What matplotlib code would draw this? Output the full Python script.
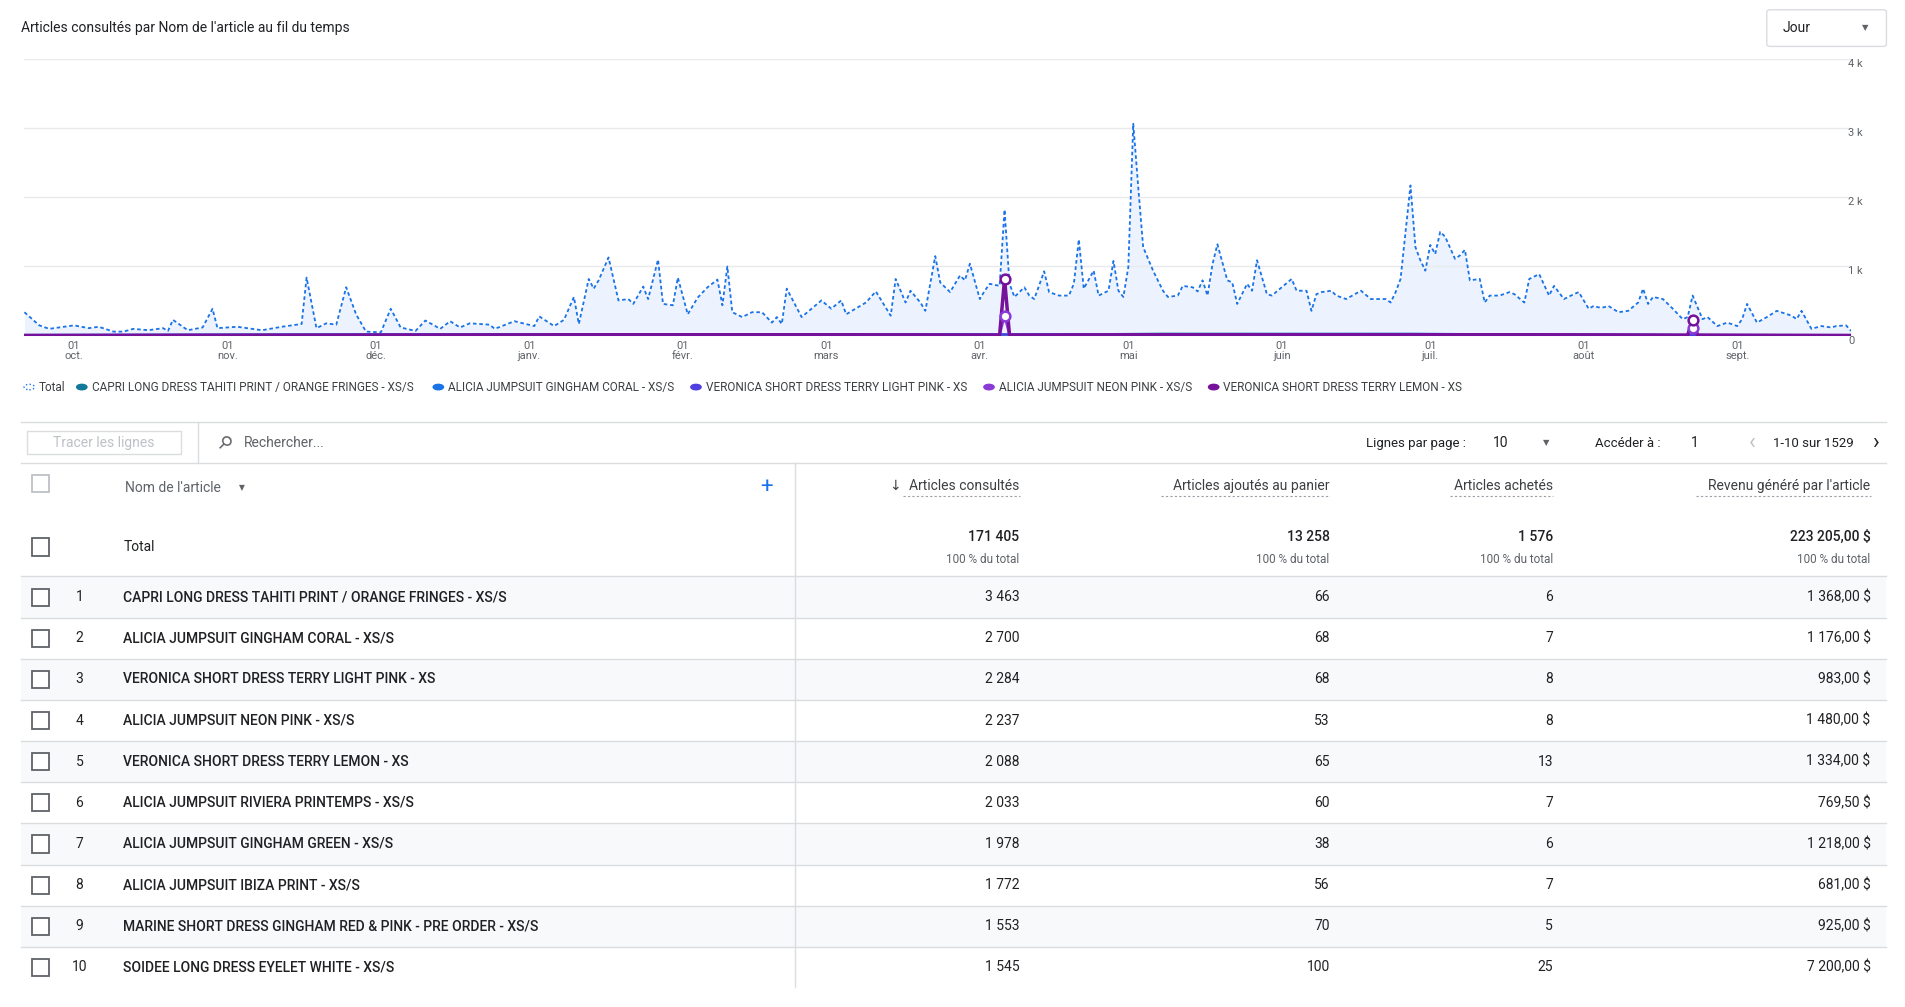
import matplotlib
matplotlib.use("Agg")
import matplotlib.pyplot as plt
import numpy as np
import datetime as dt
from matplotlib.patches import Rectangle, FancyBboxPatch
from matplotlib.lines import Line2D

plt.rcParams['font.family'] = ['Roboto', 'DejaVu Sans']

title = "Articles consultés par Nom de l'article au fil du temps"
start_date = dt.date(2023, 9, 21)
total_days = [0,3,5,8,10,13,15,18,20,22,25,28,29,30,33,36,38,39,43,48,52,56,57,59,61,63,65,67,69,72,74,76,79,81,84,86,88,90,94,95,99,103,104,107,109,111,112,114,115,116,118,120,122,123,125,126,128,129,131,132,134,136,138,140,141,142,143,145,147,149,151,152,153,154,157,159,161,163,165,166,170,172,175,176,178,179,181,182,184,185,187,189,190,191,193,
              194,195,197,198,199,200,202,203,204,206,207,209,211,212,213,214,216,217,219,220,221,222,223,224,225,226,228,230,231,233,234,236,237,238,239,240,241,243,244,245,247,248,249,251,252,254,256,257,259,260,261,262,264,265,267,270,272,275,276,277,278,280,281,282,283,284,285,286,287,289,290,291,292,294,295,296,298,300,301,303,304,306,308,309,311,313,314,316,317,318,319,320,322,324,326,327,328,329,331,333,335,336,337,339,340,342,344,346,347,348,350,352,354,357,358,359,361,363,365,366,368,369]
total_vals = [.34,.15,.10,.13,.15,.11,.13,.06,.06,.10,.08,.11,.07,.23,.08,.12,.39,.11,.13,.08,.13,.17,.84,.11,.18,.16,.70,.31,.06,.05,.39,.12,.07,.22,.10,.21,.12,.18,.16,.10,.21,.14,.28,.14,.23,.56,.17,.82,.68,.80,1.13,.51,.53,.46,.71,.53,1.10,.46,.44,.84,.31,.55,.70,.81,.44,1.00,.34,.27,.34,.34,.19,.27,.17,.68,.27,.39,.51,.39,.51,.31,.48,.64,.29,.82,.48,.65,.48,.36,1.15,.77,.63,.87,.80,1.04,.53,
              .65,.75,.72,1.82,.75,.56,.70,.58,.53,.93,.63,.58,.58,.75,1.39,.68,.94,.58,.65,1.08,.65,.56,.99,3.06,2.15,1.28,.94,.65,.56,.58,.72,.70,.64,.80,.58,1.03,1.32,.80,.77,.46,.75,.65,1.09,.60,.58,.70,.82,.65,.65,.36,.60,.63,.65,.58,.53,.65,.53,.53,.48,.63,.82,2.17,1.28,1.09,.94,1.31,1.18,1.50,1.43,1.11,1.16,1.24,.80,.82,.48,.58,.58,.63,.60,.48,.82,.89,.58,.72,.53,.60,.63,.39,.43,.41,.41,.43,.34,.36,.48,.68,.46,.56,.53,.39,.24,.27,.58,.24,.27,.14,.19,.14,.24,.46,.19,.27,.36,.29,.24,.36,.10,.14,.12,.14,.15,.07]

prod_days = [0,60,120,160,196,197,198,199,200,230,280,300,336,337,338,369]
prod_names = ["CAPRI LONG DRESS TAHITI PRINT / ORANGE FRINGES - XS/S", "ALICIA JUMPSUIT GINGHAM CORAL - XS/S",
              "VERONICA SHORT DRESS TERRY LIGHT PINK - XS", "ALICIA JUMPSUIT NEON PINK - XS/S",
              "VERONICA SHORT DRESS TERRY LEMON - XS"]
prod_vals = [
    [10,15,20,25,15,15,15,15,15,30,25,15,10,10,10,5],
    [12,20,25,20,20,20,20,20,20,25,30,20,10,10,10,5],
    [8,10,15,20,20,20,20,20,20,20,20,20,10,10,10,5],
    [5,10,15,15,10,10,290,10,10,15,15,15,10,110,10,5],
    [5,10,15,15,10,10,820,10,10,15,15,15,10,230,10,5],
]
prod_colors = ["#12799a", "#1a73e8", "#4f3fe0", "#8b3ad6", "#76119b"]
months = ["oct.", "nov.", "déc.", "janv.", "févr.", "mars", "avr.", "mai", "juin", "juil.", "août", "sept."]

columns = ["Articles consultés", "Articles ajoutés au panier", "Articles achetés", "Revenu généré par l'article"]
totals = ["171 405", "13 258", "1 576", "223 205,00 $"]
items = ["CAPRI LONG DRESS TAHITI PRINT / ORANGE FRINGES - XS/S", "ALICIA JUMPSUIT GINGHAM CORAL - XS/S",
         "VERONICA SHORT DRESS TERRY LIGHT PINK - XS", "ALICIA JUMPSUIT NEON PINK - XS/S",
         "VERONICA SHORT DRESS TERRY LEMON - XS", "ALICIA JUMPSUIT RIVIERA PRINTEMPS - XS/S",
         "ALICIA JUMPSUIT GINGHAM GREEN - XS/S", "ALICIA JUMPSUIT IBIZA PRINT - XS/S",
         "MARINE SHORT DRESS GINGHAM RED & PINK - PRE ORDER - XS/S", "SOIDEE LONG DRESS EYELET WHITE - XS/S"]
views = ["3 463", "2 700", "2 284", "2 237", "2 088", "2 033", "1 978", "1 772", "1 553", "1 545"]
carts = [66, 68, 68, 53, 65, 60, 38, 56, 70, 100]
bought = [6, 7, 8, 8, 13, 7, 6, 7, 5, 25]
revenue = ["1 368,00 $", "1 176,00 $", "983,00 $", "1 480,00 $", "1 334,00 $", "769,50 $", "1 218,00 $", "681,00 $", "925,00 $", "7 200,00 $"]

W, H = 1905, 1007
S = 1.221
fig = plt.figure(figsize=(W/100, H/100), dpi=100)
def fx(x): return x*S/W
def fy(y): return 1 - y*S/H

txtc = "#202124"; grey = "#5f6368"
fig.text(fx(17), fy(23), title, fontsize=10, color=txtc, va='center')
fig.patches.append(FancyBboxPatch((fx(1447), fy(38)), fx(98), fy(8)-fy(38), boxstyle="round,pad=0,rounding_size=0.002",
                                  transform=fig.transFigure, fc='white', ec='#dadce0', lw=1))
fig.text(fx(1460), fy(23), "Jour", fontsize=10, color=txtc, va='center')
fig.text(fx(1528), fy(23), "▼", fontsize=6, color=grey, va='center', ha='center')

ax = fig.add_axes([fx(20), fy(275), fx(1516)-fx(20), fy(48)-fy(275)])
td = [start_date + dt.timedelta(days=d) for d in total_days]
tv = np.array(total_vals)*1000
ax.fill_between(td, tv, color="#e8f0fe", alpha=0.8, lw=0)
ax.plot(td, tv, color="#1a73e8", lw=1.3, ls=(0, (2, 1.5)))
pd_ = [start_date + dt.timedelta(days=d) for d in prod_days]
for vals, c, lw in zip(prod_vals, prod_colors, [1.5, 1.5, 1.5, 1.8, 2.5]):
    ax.plot(pd_, vals, color=c, lw=lw)
for idx in (3, 4):
    for k in (6, 13):
        ax.plot(pd_[k], prod_vals[idx][k], 'o', ms=7, mfc='white', mec=prod_colors[idx], mew=1.8)
ax.set_xlim(start_date, start_date + dt.timedelta(days=369))
ax.set_ylim(0, 4000)
ax.set_yticks([0, 1000, 2000, 3000, 4000])
ax.set_yticklabels(["0", "1 k", "2 k", "3 k", "4 k"])
ax.yaxis.tick_right()
ax.tick_params(axis='y', length=0, labelsize=8, labelcolor=grey, pad=-2)
for lab in ax.get_yticklabels():
    lab.set_verticalalignment('top')
ax.grid(axis='y', color='#e8eaed', lw=1)
ticks = [dt.date(2023 + (m + 9 >= 12), (m + 9) % 12 + 1, 1) for m in range(12)]
ax.set_xticks(ticks)
ax.set_xticklabels(["01\n" + m for m in months], fontsize=8, color=grey, linespacing=1.0)
ax.tick_params(axis='x', length=0, pad=4)
ax.set_xlim(start_date, start_date + dt.timedelta(days=369))
for s in ax.spines.values(): s.set_visible(False)

# legend
lx = [20, 63, 355, 566, 806, 990]
labels = ["Total"] + prod_names
colors = ["#1a73e8"] + prod_colors
for i, (x, l, c) in enumerate(zip(lx, labels, colors)):
    if i == 0:
        fig.patches.append(plt.Circle((fx(x+4), fy(317)), 0.0027, transform=fig.transFigure, fc='white', ec=c, lw=1, ls=':'))
    else:
        fig.patches.append(plt.Circle((fx(x+4), fy(317)), 0.0027, transform=fig.transFigure, fc=c, ec=c))
    fig.text(fx(x+12), fy(317), l, fontsize=8.5, color='#3c4043', va='center')

def hline(y, x0=17, x1=1545, c='#dadce0'):
    fig.add_artist(Line2D([fx(x0), fx(x1)], [fy(y), fy(y)], color=c, lw=1))
def vline(x, y0, y1, c='#dadce0'):
    fig.add_artist(Line2D([fx(x), fx(x)], [fy(y0), fy(y1)], color=c, lw=1))

hline(346); hline(379)
vline(162, 346, 379)
fig.patches.append(Rectangle((fx(22), fy(372)), fx(126), fy(353)-fy(372), transform=fig.transFigure, fc='white', ec='#dadce0'))
fig.text(fx(85), fy(363), "Tracer les lignes", fontsize=10, color='#bdc1c6', ha='center', va='center')
fig.text(fx(183), fy(363), "⚲", fontsize=13, color=grey, ha='center', va='center', rotation=-45)
fig.text(fx(200), fy(363), "Rechercher...", fontsize=10, color=grey, va='center')
fig.text(fx(1119), fy(363), "Lignes par page :", fontsize=9.5, color=txtc, va='center')
fig.text(fx(1223), fy(363), "10", fontsize=10, color=txtc, va='center')
fig.text(fx(1266), fy(363), "▼", fontsize=6, color=grey, va='center', ha='center')
fig.text(fx(1306), fy(363), "Accéder à :", fontsize=9.5, color=txtc, va='center')
fig.text(fx(1385), fy(363), "1", fontsize=10, color=txtc, va='center')
fig.text(fx(1435), fy(363), "‹", fontsize=16, color='#bdc1c6', va='center', ha='center')
fig.text(fx(1452), fy(363), "1-10 sur 1529", fontsize=9.5, color=txtc, va='center')
fig.text(fx(1536), fy(363), "›", fontsize=16, color=txtc, va='center', ha='center')

vline(651, 379, 808)
def box(x, y, c='#5f6368'):
    fig.patches.append(Rectangle((fx(x-7), fy(y+7)), fx(14), fy(y-7)-fy(y+7), transform=fig.transFigure, fc='white', ec=c, lw=1.3))
box(33, 396, '#bdc1c6')
fig.text(fx(102), fy(400), "Nom de l'article", fontsize=10, color=grey, va='center')
fig.text(fx(198), fy(400), "▼", fontsize=5.5, color=grey, va='center', ha='center')
fig.text(fx(628), fy(399), "+", fontsize=16, color='#1a73e8', va='center', ha='center')
colx = [835, 1089, 1272, 1532]
for x, c in zip(colx, columns):
    fig.text(fx(x), fy(398), c, fontsize=10, color='#3c4043', ha='right', va='center')
    w = len(c) * 5.3
    fig.add_artist(Line2D([fx(x - w), fx(x)], [fy(406), fy(406)], color='#9aa0a6', lw=0.8, ls=(0, (2, 2))))
fig.text(fx(733), fy(398), "↓", fontsize=10, color='#3c4043', ha='center', va='center')

box(33, 448)
fig.text(fx(101), fy(448), "Total", fontsize=10, color=txtc, va='center')
for x, v in zip(colx, totals):
    fig.text(fx(x), fy(440), v, fontsize=10, color=txtc, ha='right', va='center', fontweight='medium')
    fig.text(fx(x), fy(458), "100 % du total", fontsize=8.5, color=grey, ha='right', va='center')
hline(472)

row_h = 33.7
for i in range(10):
    yc = 489 + i*row_h
    if i % 2 == 0:
        fig.patches.append(Rectangle((fx(17), fy(yc+row_h/2)), fx(1528), fy(yc-row_h/2)-fy(yc+row_h/2),
                                     transform=fig.transFigure, fc='#f8f9fa', ec='none', zorder=-1))
    if i < 9:
        hline(yc + row_h/2)
    box(33, yc)
    fig.text(fx(65), fy(yc), str(i+1), fontsize=10, color=txtc, va='center', ha='center')
    fig.text(fx(101), fy(yc), items[i], fontsize=10, color=txtc, va='center', fontweight='medium')
    for x, v in zip(colx, [views[i], str(carts[i]), str(bought[i]), revenue[i]]):
        fig.text(fx(x), fy(yc), v, fontsize=10, color=txtc, ha='right', va='center')

fig.savefig("out.png", dpi=100, facecolor='white')
